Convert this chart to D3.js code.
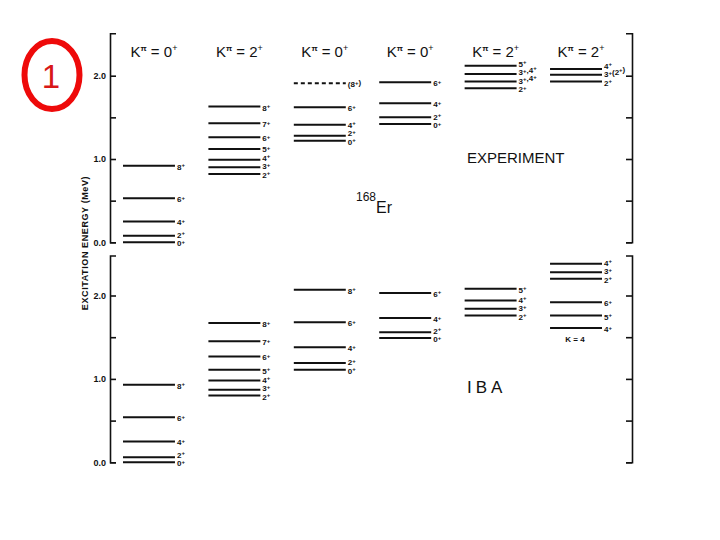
<html>
<head>
<script src="https://d3js.org/d3.v7.min.js"></script>
<style>
  body{margin:0;background:#fff;}
  text{font-family:"Liberation Sans",Arial,sans-serif;fill:#111;}
  .lvl{stroke:#111;stroke-width:2;}
  .axis path,.axis line{stroke:#111;stroke-width:1.6;fill:none;}
  .axis text{font-size:9px;font-weight:bold;}
  .spin{font-size:8px;font-weight:bold;}
  .head{font-size:15px;}
</style>
</head>
<body>
<script>
// columns (bands) and their K-pi headers
const cols = ["g", "gamma", "beta", "zero2", "gamma2", "k2"];
const heads = ["0", "2", "0", "0", "2", "2"];

// experiment: energies (MeV) and spin labels per band
const expG = [0, 0.08, 0.25, 0.53, 0.92];
const expGJ = ["0", "2", "4", "6", "8"];
const expGam = [0.82, 0.90, 0.99, 1.12, 1.26, 1.43, 1.63];
const expGamJ = ["2", "3", "4", "5", "6", "7", "8"];
const expB = [1.22, 1.28, 1.41, 1.62, 1.91];
const expBJ = ["0", "2", "4", "6", "(8)"];
const expZ = [1.42, 1.50, 1.67, 1.92];
const expZJ = ["0", "2", "4", "6"];
const expG2 = [1.85, 1.93, 2.02, 2.12];
const expG2J = ["2", "3,4", "3,4", "5"];
const expK = [1.93, 2.01, 2.08];
const expKJ = ["2", "3(2)", "4"];

// IBA calculation
const ibaG = [0, 0.06, 0.25, 0.54, 0.93];
const ibaGJ = ["0", "2", "4", "6", "8"];
const ibaGam = [0.80, 0.87, 0.98, 1.11, 1.27, 1.45, 1.67];
const ibaGamJ = ["2", "3", "4", "5", "6", "7", "8"];
const ibaB = [1.11, 1.19, 1.38, 1.68, 2.07];
const ibaBJ = ["0", "2", "4", "6", "8"];
const ibaZ = [1.49, 1.56, 1.73, 2.03];
const ibaZJ = ["0", "2", "4", "6"];
const ibaG2 = [1.76, 1.84, 1.94, 2.08];
const ibaG2J = ["2", "3", "4", "5"];
const ibaK = [1.61, 1.76, 1.92, 2.20, 2.28, 2.38];
const ibaKJ = ["4", "5", "6", "2", "3", "4"];

const tickVals = [0, 0.5, 1, 1.5, 2];

function table(list){
  // list of [col, energies, spins]
  let out = [];
  list.forEach(function(b){
    b[1].forEach(function(e,i){
      out.push({col:b[0], e:e, j:b[2][i], dashed:b[2][i].indexOf("(")==0});
    });
  });
  return out;
}
const expData = table([["g",expG,expGJ],["gamma",expGam,expGamJ],["beta",expB,expBJ],
  ["zero2",expZ,expZJ],["gamma2",expG2,expG2J],["k2",expK,expKJ]]);
const ibaData = table([["g",ibaG,ibaGJ],["gamma",ibaGam,ibaGamJ],["beta",ibaB,ibaBJ],
  ["zero2",ibaZ,ibaZJ],["gamma2",ibaG2,ibaG2J],["k2",ibaK,ibaKJ]]);

const w = 720, h = 540;
const svg = d3.select("body").append("svg").attr("width",w).attr("height",h);

const x = d3.scaleBand().domain(cols).range([123,600]).paddingInner(0.415).paddingOuter(0);

const axL = 110, axR = 632;

function panel(data, y0, y2, topE, botE){
  const y = d3.scaleLinear().domain([0,2]).range([y0,y2]);
  const yAx = d3.scaleLinear().domain([botE,topE]).range([y(botE),y(topE)]);

  svg.append("g").attr("class","axis")
    .attr("transform","translate("+axL+",0)")
    .call(d3.axisLeft(yAx).tickValues(tickVals).tickSizeInner(-6).tickSizeOuter(-6).tickPadding(4)
      .tickFormat(function(d){return d%1==0 ? d3.format(".1f")(d) : "";}));
  svg.append("g").attr("class","axis")
    .attr("transform","translate("+axR+",0)")
    .call(d3.axisRight(yAx).tickValues(tickVals).tickSizeInner(-6).tickSizeOuter(-6).tickFormat(""));

  const g = svg.append("g");
  g.selectAll("line.lvl").data(data).enter().append("line")
    .attr("class","lvl")
    .attr("x1",function(d){return x(d.col);})
    .attr("x2",function(d){return x(d.col)+x.bandwidth()+2;})
    .attr("y1",function(d){return y(d.e);})
    .attr("y2",function(d){return y(d.e);})
    .attr("stroke-dasharray",function(d){return d.dashed ? "4,3" : null;});

  // spin labels, pushed apart a little where levels crowd
  cols.forEach(function(c){
    const lv = data.filter(function(d){return d.col==c;}).sort(function(a,b){return a.e-b.e;});
    let prev = 1e9;
    lv.forEach(function(d){
      let ly = Math.min(y(d.e)+4, prev-8.5);
      prev = ly;
      const t = g.append("text").attr("class","spin")
        .attr("x",x(c)+x.bandwidth()+4).attr("y",ly);
      const parts = d.j.split(/([0-9]+)/).filter(function(s){return s.length;});
      parts.forEach(function(p){
        if (/[0-9]/.test(p)){
          t.append("tspan").text(p);
          t.append("tspan").attr("dy",-2.5).attr("font-size","6px").text("+");
          t.append("tspan").attr("dy",2.5).text("");
        } else {
          t.append("tspan").text(p);
        }
      });
    });
  });
  return y;
}

const yTop = panel(expData, 242.3, 75.7, 2.51, 0);
const yBot = panel(ibaData, 462.3, 295.5, 2.48, 0);

// band headers
cols.forEach(function(c,i){
  const t = svg.append("text").attr("class","head")
    .attr("x",x(c)+x.bandwidth()/2+6).attr("y",57).attr("text-anchor","middle");
  t.append("tspan").text("K");
  t.append("tspan").attr("dy",-6).attr("font-size","8px").attr("font-weight","bold").text("π");
  t.append("tspan").attr("dy",6).text(" = " + heads[i]);
  t.append("tspan").attr("dy",-6).attr("font-size","9px").text("+");
});

// K=4 label under IBA band
svg.append("text").attr("class","spin")
  .attr("x",x("k2")+x.bandwidth()/2).attr("y",yBot(ibaK[0])+14)
  .attr("text-anchor","middle").text("K = 4");

svg.append("text").attr("x",467).attr("y",163).attr("font-size","15px").text("EXPERIMENT");
svg.append("text").attr("x",467).attr("y",393).attr("font-size","17px")
  .attr("letter-spacing","4px").text("IBA");

const er = svg.append("text").attr("x",356).attr("y",213).attr("font-size","16px");
er.append("tspan").attr("dy",-12).attr("font-size","12px").text("168");
er.append("tspan").attr("dy",12).text("Er");

svg.append("text")
  .attr("transform","translate(88,243) rotate(-90)")
  .attr("text-anchor","middle").attr("font-size","9px").attr("font-weight","bold")
  .attr("letter-spacing","0.6px")
  .text("EXCITATION ENERGY (MeV)");

// red marker
svg.append("ellipse").attr("cx",52).attr("cy",75).attr("rx",27.5).attr("ry",34)
  .attr("fill","none").attr("stroke","#ee0a0a").attr("stroke-width",6);
svg.append("text").attr("x",51).attr("y",88).attr("text-anchor","middle")
  .attr("font-size","33px").style("fill","#d81818").text("1");
</script>
</body>
</html>
